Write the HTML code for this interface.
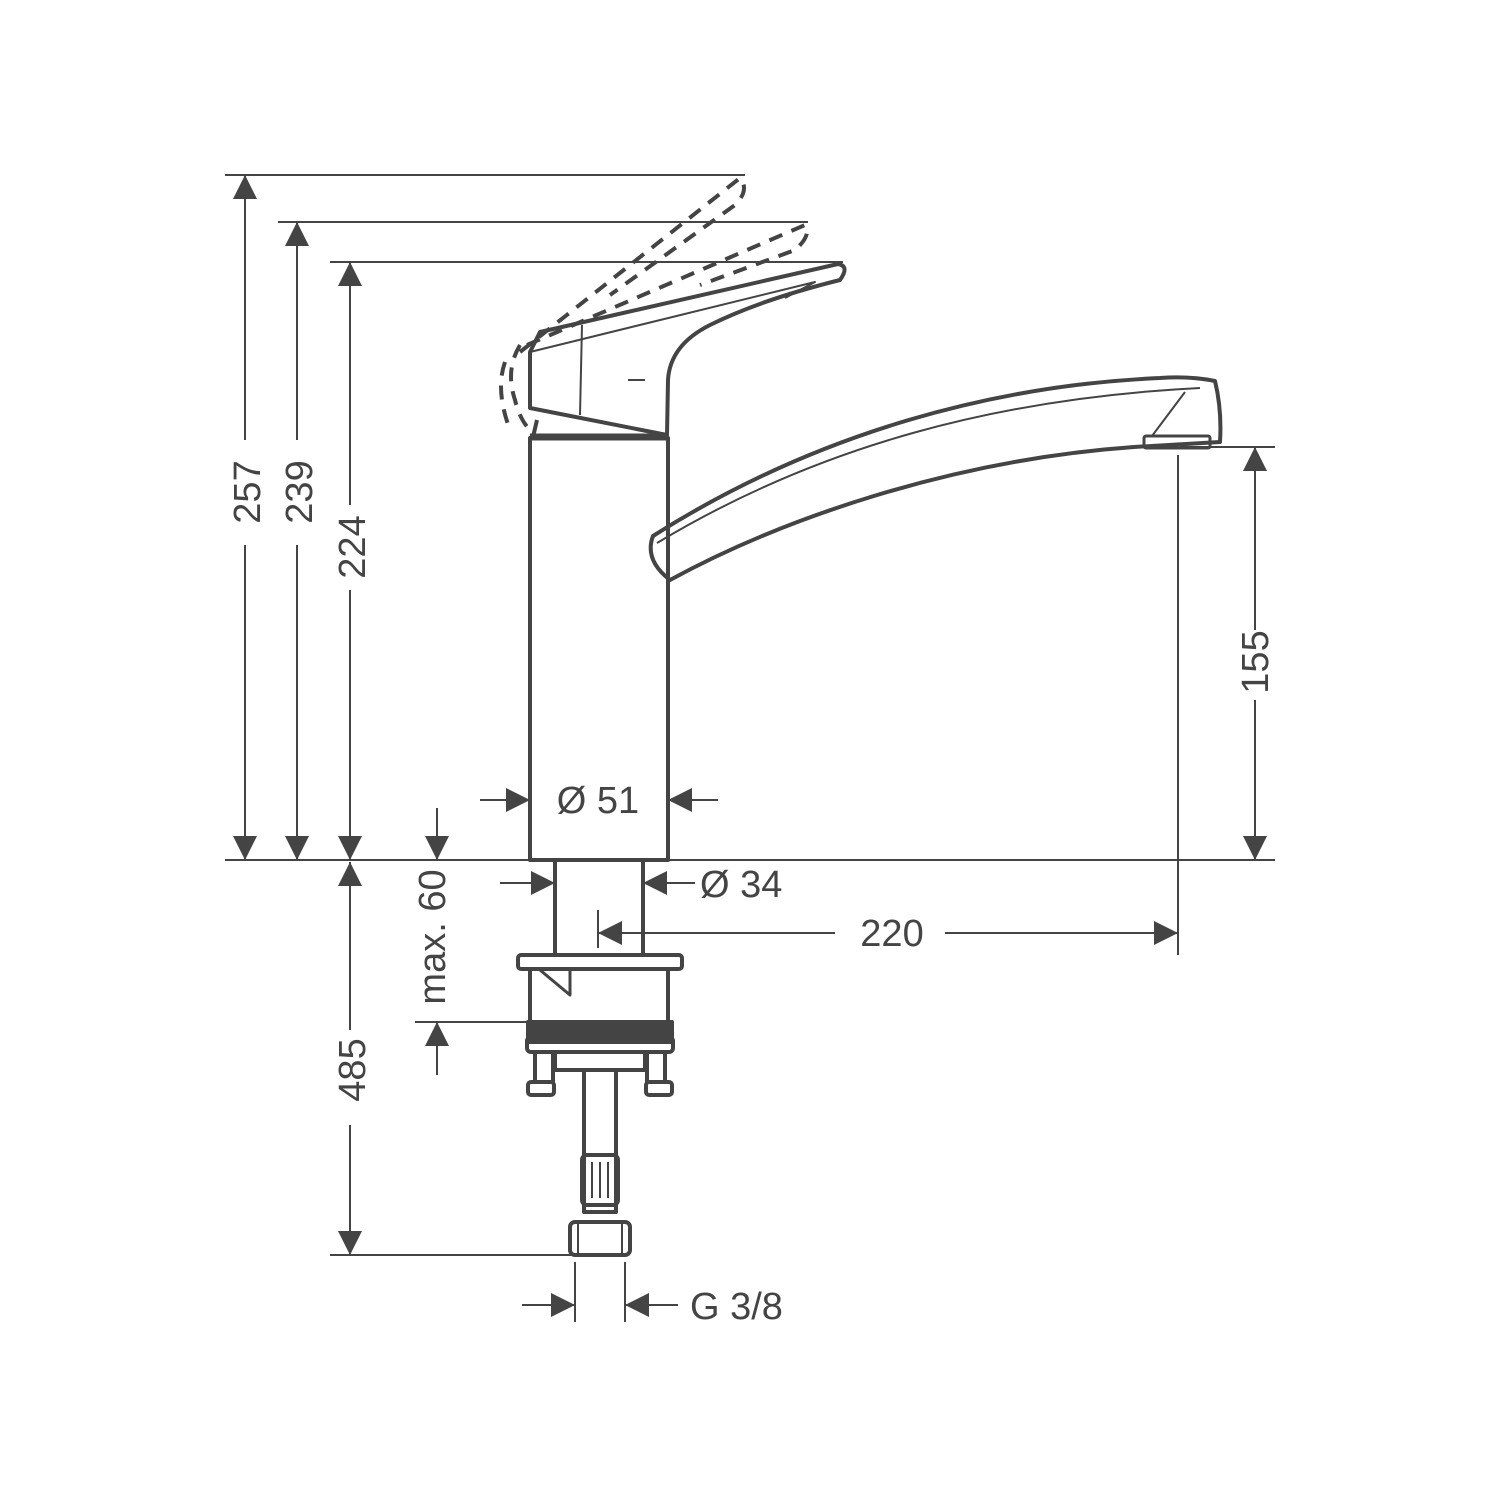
<!DOCTYPE html>
<html><head><meta charset="utf-8"><style>
html,body{margin:0;padding:0;background:#fff;width:1500px;height:1500px;overflow:hidden}
text{font-family:"Liberation Sans",sans-serif;fill:#444;font-size:38px}
</style></head><body>
<svg width="1500" height="1500" viewBox="0 0 1500 1500" xmlns="http://www.w3.org/2000/svg">
<defs>
<marker id="a" viewBox="0 0 10 10" refX="10" refY="5" markerWidth="24" markerHeight="24" markerUnits="userSpaceOnUse" orient="auto"><path d="M0,0 L10,5 L0,10 z" fill="#444"/></marker>
</defs>
<g stroke="#444" stroke-width="2" fill="none">
<line x1="225" y1="860" x2="1275" y2="860"/>
<line x1="225" y1="175" x2="745" y2="175"/>
<line x1="278" y1="222" x2="808" y2="222"/>
<line x1="330" y1="262" x2="843" y2="262"/>
<line x1="1180" y1="447" x2="1275" y2="447"/>
<line x1="415" y1="1022" x2="530" y2="1022"/>
<line x1="330" y1="1255" x2="575" y2="1255"/>
<line x1="1178" y1="455" x2="1178" y2="955"/>
<line x1="598" y1="910" x2="598" y2="948"/>
<line x1="575" y1="1262" x2="575" y2="1322"/>
<line x1="625" y1="1262" x2="625" y2="1322"/>
<line x1="245" y1="440" x2="245" y2="175" marker-end="url(#a)"/>
<line x1="245" y1="545" x2="245" y2="860" marker-end="url(#a)"/>
<line x1="297" y1="440" x2="297" y2="222" marker-end="url(#a)"/>
<line x1="297" y1="545" x2="297" y2="860" marker-end="url(#a)"/>
<line x1="350" y1="505" x2="350" y2="262" marker-end="url(#a)"/>
<line x1="350" y1="590" x2="350" y2="860" marker-end="url(#a)"/>
<line x1="350" y1="1030" x2="350" y2="862" marker-end="url(#a)"/>
<line x1="350" y1="1125" x2="350" y2="1255" marker-end="url(#a)"/>
<line x1="437" y1="808" x2="437" y2="860" marker-end="url(#a)"/>
<line x1="437" y1="1075" x2="437" y2="1022" marker-end="url(#a)"/>
<line x1="1255" y1="630" x2="1255" y2="447" marker-end="url(#a)"/>
<line x1="1255" y1="700" x2="1255" y2="860" marker-end="url(#a)"/>
<line x1="480" y1="800" x2="530" y2="800" marker-end="url(#a)"/>
<line x1="718" y1="800" x2="668" y2="800" marker-end="url(#a)"/>
<line x1="500" y1="883" x2="555" y2="883" marker-end="url(#a)"/>
<line x1="695" y1="883" x2="643" y2="883" marker-end="url(#a)"/>
<line x1="835" y1="933" x2="598" y2="933" marker-end="url(#a)"/>
<line x1="945" y1="933" x2="1178" y2="933" marker-end="url(#a)"/>
<line x1="522" y1="1305" x2="575" y2="1305" marker-end="url(#a)"/>
<line x1="678" y1="1305" x2="625" y2="1305" marker-end="url(#a)"/>
</g>
<g stroke="#444" stroke-width="4" fill="none" stroke-linejoin="round">
<rect x="530" y="438" width="138" height="422"/>
<line x1="530" y1="437" x2="668" y2="437" stroke-width="7"/>
<path d="M533,437 L537,420"/>
<path d="M530,352 L540,332 L838,264 Q850,266 840,280 Q760,300 710,325 Q670,345 668,380 L667,435 L530,408 Z"/>
<path d="M530,352 L815,282 L785,298" stroke-width="2"/>
<line x1="582" y1="325" x2="580" y2="415" stroke-width="2"/>
<line x1="628" y1="380" x2="645" y2="380" stroke-width="2"/>
<g stroke-dasharray="14,10">
<path d="M520,352 L740,178 Q750,190 735,205 L610,295"/>
<path d="M527,345 L805,225 Q812,235 795,250 L700,285"/>
<path d="M520,345 Q505,370 515,400 Q520,420 530,430"/>
<path d="M505,362 Q495,390 510,430"/>
</g>
<!-- spout -->
<path d="M653,536 Q644,560 670,580 C780,520 950,460 1134,447 L1220,442 Q1222,410 1215,381 Q1190,376 1160,378 C1000,385 820,430 653,536 Z"/>
<path d="M657,543 C820,445 1000,398 1200,388 M1185,392 L1152,436" stroke-width="2"/>
<rect x="1144" y="436" width="66" height="12" rx="2" stroke-width="3"/>
<rect x="555" y="860" width="88" height="95"/>
<rect x="518" y="955" width="164" height="14" rx="3"/>
<rect x="530" y="969" width="138" height="53"/>
<path d="M540,970 L570,995 L570,970" stroke-width="3"/>
<rect x="528" y="1022" width="144" height="20" fill="#444"/>
<rect x="527" y="1037" width="146" height="15" rx="4"/>
<rect x="555" y="1052" width="90" height="18"/>
<rect x="535" y="1052" width="18" height="30"/>
<rect x="647" y="1052" width="18" height="30"/>
<rect x="528" y="1082" width="26" height="13" rx="3"/>
<rect x="646" y="1082" width="26" height="13" rx="3"/>
<rect x="584" y="1070" width="32" height="142"/>
<rect x="582" y="1155" width="36" height="50" rx="5"/>
<path d="M592,1162 L592,1198 M600,1162 L600,1198 M608,1162 L608,1198" stroke-width="2"/>
<rect x="570" y="1222" width="60" height="33" rx="5"/>
<path d="M578,1222 L578,1255 M622,1222 L622,1255" stroke-width="2"/>
</g>
<text transform="translate(260,492) rotate(-90)" text-anchor="middle">257</text>
<text transform="translate(312,492) rotate(-90)" text-anchor="middle">239</text>
<text transform="translate(365,547) rotate(-90)" text-anchor="middle">224</text>
<text transform="translate(365,1070) rotate(-90)" text-anchor="middle">485</text>
<text transform="translate(445,937) rotate(-90)" text-anchor="middle" font-size="34">max. 60</text>
<text transform="translate(1268,662) rotate(-90)" text-anchor="middle">155</text>
<text x="598" y="813" text-anchor="middle">Ø 51</text>
<text x="700" y="897">Ø 34</text>
<text x="892" y="946" text-anchor="middle">220</text>
<text x="690" y="1319">G 3/8</text>
</svg>
</body></html>
